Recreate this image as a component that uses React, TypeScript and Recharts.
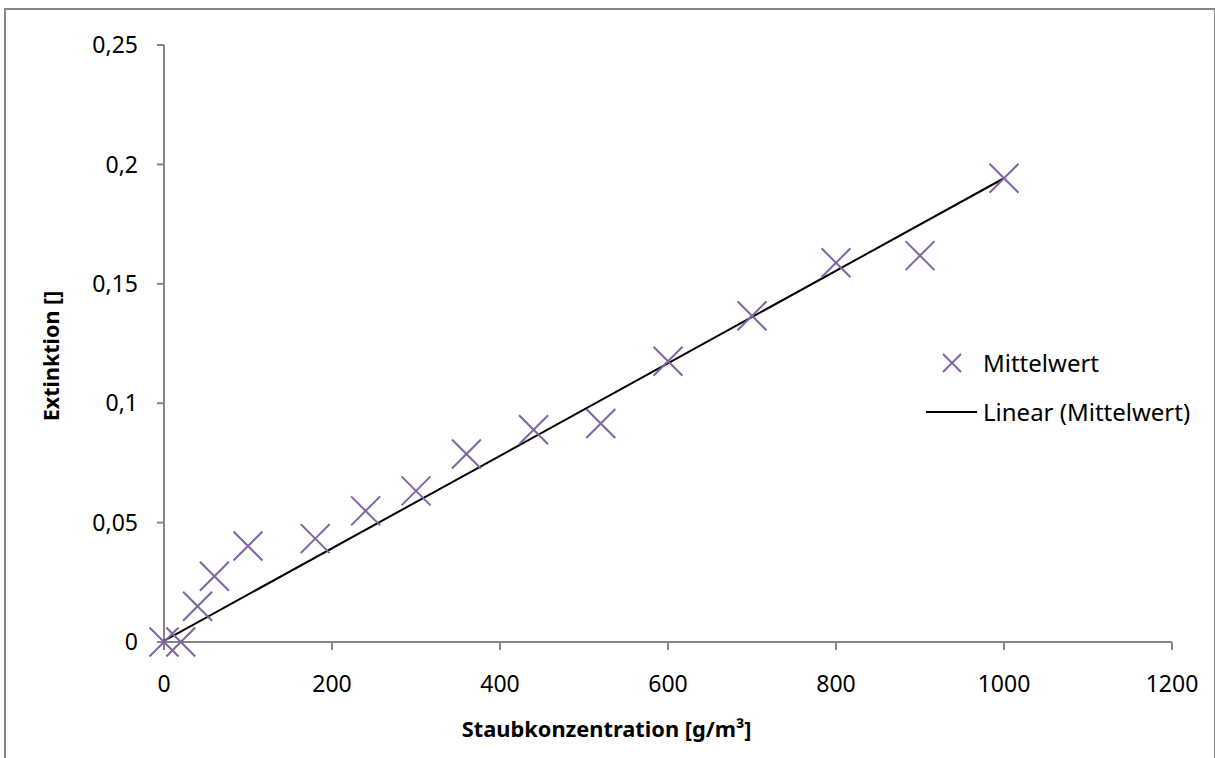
import React from 'react';
import { ScatterChart, Scatter, XAxis, YAxis, Legend } from 'recharts';

// Staubkonzentration [g/m³] und gemessene Extinktion (Mittelwerte)
const concentration = [0, 20, 40, 60, 100, 180, 240, 300, 360, 440, 520, 600, 700, 800, 900, 1000];
const extinction = [0, 0, 0.015, 0.0275, 0.0402, 0.0433, 0.0549, 0.0633, 0.0787, 0.0889, 0.0915, 0.1176, 0.1366, 0.1588, 0.1618, 0.1942];

// linear trendline endpoints
const trendX = [0, 1000];
const trendY = [0.0005, 0.1942];

const xTicks = [0, 200, 400, 600, 800, 1000, 1200];
const yTicks = [0, 0.05, 0.1, 0.15, 0.2, 0.25];

const points = concentration.map((x, i) => ({ x, y: extinction[i] }));
const trend = trendX.map((x, i) => ({ x, y: trendY[i] }));

const FONT = '"Noto Sans", "Open Sans", sans-serif';
const AXIS = '#868686';
const PURPLE = '#8064A2';

const CrossMarker = (props: any) => {
  const { cx, cy } = props;
  const r = 14.5;
  return (
    <g stroke={PURPLE} strokeWidth={2}>
      <line x1={cx - r} y1={cy - r} x2={cx + r} y2={cy + r} />
      <line x1={cx - r} y1={cy + r} x2={cx + r} y2={cy - r} />
    </g>
  );
};

const NoMarker = () => <g />;

const fmt = (v: number) => String(v).replace('.', ',');

const LegendBox = () => (
  <div style={{ fontFamily: FONT, fontSize: 24, color: '#000' }}>
    <div style={{ display: 'flex', alignItems: 'center', height: 49 }}>
      <svg width={62} height={20}>
        <g stroke={PURPLE} strokeWidth={2}>
          <line x1={22} y1={1} x2={40} y2={19} />
          <line x1={22} y1={19} x2={40} y2={1} />
        </g>
      </svg>
      <span style={{ whiteSpace: 'nowrap' }}>Mittelwert</span>
    </div>
    <div style={{ display: 'flex', alignItems: 'center', height: 49 }}>
      <svg width={62} height={20}>
        <line x1={5} y1={10} x2={56} y2={10} stroke="#000" strokeWidth={2} />
      </svg>
      <span style={{ whiteSpace: 'nowrap' }}>Linear (Mittelwert)</span>
    </div>
  </div>
);

export default function App() {
  return (
    <div
      style={{
        position: 'absolute',
        left: 4,
        top: 8,
        width: 1208,
        height: 760,
        border: `2px solid ${AXIS}`,
        background: '#fff',
      }}
    >
      <ScatterChart
        width={1208}
        height={760}
        margin={{ top: 35, right: 42, bottom: 68, left: 0 }}
        style={{ fontFamily: FONT }}
      >
        <XAxis
          type="number"
          dataKey="x"
          domain={[0, 1200]}
          ticks={xTicks}
          height={60}
          stroke={AXIS}
          strokeWidth={2}
          tickSize={8}
          tickMargin={26}
          tick={{ fill: '#000', fontSize: 23, fontFamily: FONT }}
          label={{
            content: () => (
              <text
                x={600.7}
                y={727}
                textAnchor="middle"
                fontFamily={FONT}
                fontSize={21.8}
                fontWeight="bold"
                fill="#000"
              >
                Staubkonzentration [g/m³]
              </text>
            ),
          }}
        />
        <YAxis
          type="number"
          dataKey="y"
          domain={[0, 0.25]}
          ticks={yTicks}
          width={158}
          stroke={AXIS}
          strokeWidth={2}
          tickSize={7}
          tickMargin={19}
          tickFormatter={fmt}
          tick={{ fill: '#000', fontSize: 23, fontFamily: FONT }}
          label={{
            content: () => (
              <text
                x={44}
                y={346}
                transform="rotate(-90, 44, 346)"
                textAnchor="middle"
                dominantBaseline="central"
                fontFamily={FONT}
                fontSize={21.5}
                fontWeight="bold"
                fill="#000"
              >
                Extinktion []
              </text>
            ),
          }}
        />
        <Scatter
          name="Linear (Mittelwert)"
          data={trend}
          line={{ stroke: '#000', strokeWidth: 2 }}
          shape={NoMarker}
          isAnimationActive={false}
        />
        <Scatter
          name="Mittelwert"
          data={points}
          shape={CrossMarker}
          isAnimationActive={false}
        />
        <Legend
          layout="horizontal"
          verticalAlign="middle"
          align="center"
          content={LegendBox}
          wrapperStyle={{ left: 915, top: 328, width: 290 }}
        />
      </ScatterChart>
    </div>
  );
}
